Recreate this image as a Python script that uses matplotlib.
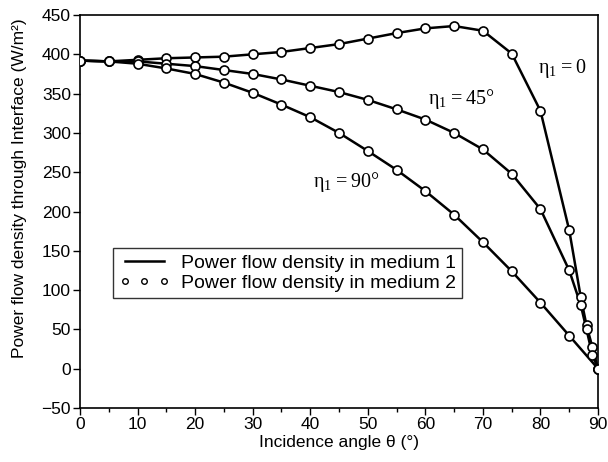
import matplotlib
matplotlib.use('Agg')
import matplotlib.pyplot as plt
from matplotlib.lines import Line2D

plt.rcParams['font.family'] = ['Liberation Sans', 'DejaVu Sans']

# incidence angles (deg) and power flow density (W/m^2) for each eta1
theta_0 = [0, 5, 10, 15, 20, 25, 30, 35, 40, 45, 50, 55, 60, 65, 70, 75, 80, 85, 87, 88, 89, 90]
p_0 = [392, 391, 393, 395, 396, 397, 400, 403, 408, 413, 420, 427, 433, 436, 430, 401, 328, 176, 91, 55, 28, 0]

theta_45 = [0, 5, 10, 15, 20, 25, 30, 35, 40, 45, 50, 55, 60, 65, 70, 75, 80, 85, 87, 88, 89, 90]
p_45 = [392, 391, 391, 388, 385, 380, 375, 368, 360, 352, 342, 330, 317, 300, 279, 248, 203, 125, 81, 50, 18, 0]

theta_90 = [0, 5, 10, 15, 20, 25, 30, 35, 40, 45, 50, 55, 60, 65, 70, 75, 80, 85, 90]
p_90 = [392, 391, 388, 382, 375, 364, 351, 336, 320, 300, 277, 253, 226, 196, 161, 124, 84, 42, 0]

labels = [r'$\mathregular{\eta_1 = 0}$', r'$\mathregular{\eta_1 = 45°}$', r'$\mathregular{\eta_1 = 90°}$']
label_pos = [(79.5, 382), (60.5, 343), (40.5, 238)]

fig = plt.figure(figsize=(6.08, 4.62), dpi=100)
ax = fig.add_axes([0.1316, 0.1169, 0.8520, 0.8506])

for th, p in [(theta_0, p_0), (theta_45, p_45), (theta_90, p_90)]:
    ax.plot(th, p, color='black', linewidth=1.8, zorder=2)
    ax.plot(th, p, linestyle='none', marker='o', markersize=6.5,
            markerfacecolor='white', markeredgecolor='black', markeredgewidth=1.2, zorder=3)

for txt, (x, y) in zip(labels, label_pos):
    ax.text(x, y, txt, fontsize=14.5, va='center', ha='left',
            fontfamily='Liberation Serif')

ax.set_xlim(0, 90)
ax.set_ylim(-50, 450)
ax.set_xticks(range(0, 91, 10))
ax.set_xticks(range(5, 90, 10), minor=True)
ax.set_yticks(range(-50, 451, 50))
ax.set_yticklabels(['\u221250'] + [str(v) for v in range(0, 451, 50)])
ax.tick_params(direction='out', labelsize=12.5, length=5, width=1, pad=1.5)
ax.tick_params(which='minor', direction='out', length=3, width=1)
for s in ax.spines.values():
    s.set_linewidth(1.2)

ax.set_xlabel('Incidence angle \u03b8 (\u00b0)', fontsize=12.5, labelpad=2)
ax.set_ylabel('Power flow density through Interface (W/m\u00b2)', fontsize=12.5)
ax.yaxis.set_label_coords(-0.103, 0.56)

handles = [Line2D([], [], color='black', linewidth=1.8),
           Line2D([], [], linestyle='none', marker='o', markersize=4,
                  markerfacecolor='white', markeredgecolor='black', markeredgewidth=1.0)]
leg = ax.legend(handles, ['Power flow density in medium 1', 'Power flow density in medium 2'],
                loc='upper left', bbox_to_anchor=(0.064, 0.406), borderaxespad=0,
                fancybox=False, edgecolor='#333333', framealpha=1, fontsize=14,
                numpoints=3, handlelength=2.6, handletextpad=0.6, labelspacing=0.12,
                borderpad=0.3)
leg.get_frame().set_linewidth(1.0)

fig.savefig('out.png', dpi=100)
